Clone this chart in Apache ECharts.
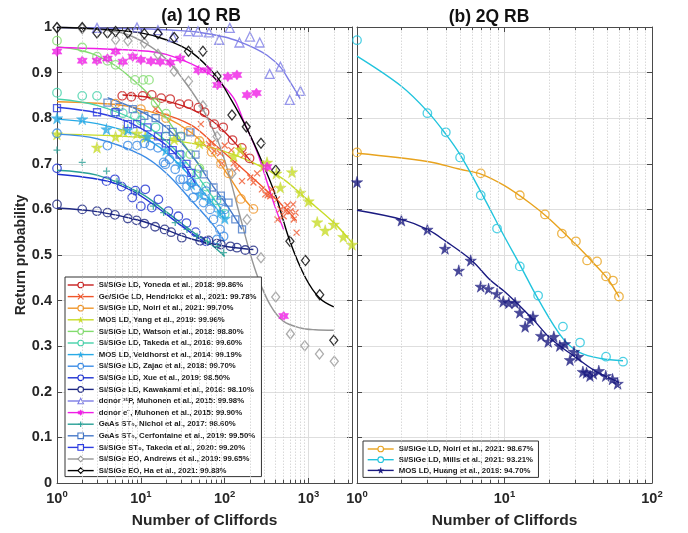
<!DOCTYPE html>
<html>
<head>
<meta charset="utf-8">
<script src="https://cdn.jsdelivr.net/npm/echarts@6/dist/echarts.min.js"></script>
<style>
  html, body { margin: 0; background: #fff; }
  #chart { width: 688px; height: 533px; }
</style>
</head>
<body>
<div id="chart"></div>
<script>
// ---- axis ticks ----
const leftXMax = 3300;
const rightXMax = 100;
const leftMinor = [2, 3, 4, 5, 6, 7, 8, 9, 20, 30, 40, 50, 60, 70, 80, 90, 200, 300, 400, 500, 600, 700, 800, 900, 2000, 3000];
const rightMinor = [2, 3, 4, 5, 6, 7, 8, 9, 20, 30, 40, 50, 60, 70, 80, 90];

// ---- (a) 1Q RB : points and fitted curves [cliffords, probability] ----
const yonedaPts = [[6, 0.849], [7.7, 0.847], [10.5, 0.849], [13.5, 0.851], [17.5, 0.844], [22.4, 0.842], [29, 0.831], [37, 0.831], [48.6, 0.823], [57.6, 0.813], [75, 0.787], [96, 0.78], [124, 0.752], [160, 0.735], [198, 0.712]];
const yonedaFit = [[6, 0.851], [10, 0.848], [20, 0.838], [40, 0.82], [70, 0.795], [100, 0.77], [150, 0.735], [220, 0.699]];

const hendrickxPts = [[15, 0.82], [52, 0.787], [65, 0.743], [70, 0.745], [75, 0.728], [88, 0.723], [93, 0.701], [100, 0.74], [120, 0.73], [128, 0.701], [140, 0.69], [161, 0.662], [168, 0.719], [202, 0.67], [220, 0.659], [244, 0.679], [278, 0.644], [305, 0.633], [325, 0.631], [350, 0.629], [366, 0.644], [420, 0.622], [427, 0.578], [462, 0.6], [505, 0.585], [530, 0.596], [560, 0.609], [610, 0.596], [655, 0.611], [665, 0.578], [700, 0.593], [720, 0.549]];
const hendrickxFit = [[15, 0.815], [40, 0.785], [73, 0.745], [150, 0.695], [300, 0.645], [450, 0.615], [720, 0.575]];

const noiri1Pts = [[5, 0.832], [10, 0.82], [20, 0.8], [37, 0.772], [50, 0.75], [70, 0.726], [90, 0.7], [111, 0.679], [156, 0.623], [220, 0.601]];
const noiri1Fit = [[1, 0.836], [5, 0.83], [10, 0.82], [20, 0.802], [40, 0.768], [70, 0.725], [110, 0.675], [160, 0.63], [220, 0.6]];

const yangPts = [[1, 0.765], [3, 0.736], [5, 0.76], [6.2, 0.772], [9, 0.767], [11.3, 0.759], [25, 0.754], [50, 0.745], [128, 0.717], [154, 0.732], [290, 0.695], [320, 0.703], [413, 0.679], [462, 0.648], [635, 0.682], [800, 0.637], [1000, 0.618], [1270, 0.572], [1580, 0.554], [2000, 0.567], [2600, 0.54], [3300, 0.523]];
const yangFit = [[1, 0.765], [10, 0.758], [50, 0.742], [128, 0.72], [250, 0.697], [505, 0.666], [960, 0.622], [2000, 0.571], [3300, 0.527]];

const watsonPts = [[1, 0.97], [2, 0.955], [3, 0.935], [4, 0.926], [5, 0.917], [8.5, 0.884], [10.7, 0.884], [12.5, 0.884], [15, 0.834], [20, 0.81], [30, 0.76], [39, 0.721], [50, 0.69]];
const watsonFit = [[1, 0.957], [2, 0.948], [3, 0.937], [5, 0.915], [8, 0.885], [12, 0.855], [17, 0.82], [25, 0.775], [40, 0.72], [56, 0.688]];

const takeda16Pts = [[1, 0.856], [2, 0.849], [3, 0.849], [4.9, 0.813], [6.1, 0.811], [8.5, 0.805], [10, 0.795], [15, 0.78], [20, 0.76], [30, 0.72], [47, 0.677], [60, 0.65], [80, 0.62], [100, 0.59]];
const takeda16Fit = [[1, 0.842], [3, 0.828], [10, 0.79], [20, 0.75], [40, 0.69], [70, 0.63], [100, 0.59]];

const veldhorstPts = [[1, 0.8], [2, 0.798], [3.9, 0.776], [7, 0.775], [12, 0.76], [20, 0.73], [30, 0.7], [40, 0.655], [51, 0.633], [65, 0.62], [88, 0.593], [100, 0.58]];
const veldhorstFit = [[1, 0.798], [3, 0.788], [10, 0.76], [20, 0.725], [40, 0.67], [70, 0.615], [100, 0.578]];

const zajacPts = [[1, 0.767], [4, 0.74], [7, 0.74], [9, 0.74], [11, 0.745], [13, 0.74], [16, 0.735], [18.7, 0.703], [19.6, 0.699], [22, 0.71], [25.7, 0.688], [29.5, 0.666], [32, 0.666], [35.5, 0.651], [40.5, 0.659], [42, 0.626], [45, 0.644], [56, 0.615], [60, 0.64], [67, 0.6], [73.5, 0.578], [81, 0.534], [88, 0.556], [90, 0.62], [97, 0.541], [100, 0.6]];
const zajacFit = [[1, 0.765], [3, 0.755], [10, 0.72], [20, 0.68], [40, 0.62], [70, 0.57], [100, 0.53]];

const xuePts = [[1, 0.69], [3.9, 0.662], [4.9, 0.666], [5.9, 0.65], [7.9, 0.626], [8.6, 0.641], [10, 0.607], [11.3, 0.644], [13.5, 0.604], [16.2, 0.622], [21.3, 0.596], [28, 0.585], [35, 0.57], [45, 0.55], [60, 0.53]];
const xueFit = [[1, 0.677], [4, 0.662], [8, 0.64], [15, 0.607], [30, 0.565], [60, 0.525]];

const kawakamiPts = [[1, 0.611], [2, 0.6], [3, 0.596], [4, 0.593], [4.9, 0.588], [7, 0.58], [8.9, 0.576], [11, 0.569], [14.8, 0.562], [19.2, 0.556], [23, 0.55], [30.8, 0.538], [51, 0.531], [64, 0.532], [81, 0.525], [90, 0.523], [117, 0.519], [140, 0.516], [176, 0.511], [220, 0.51]];
const kawakamiFit = [[1, 0.603], [3, 0.595], [10, 0.575], [20, 0.555], [40, 0.535], [70, 0.525], [120, 0.517], [220, 0.512]];

const donorPPts = [[3, 0.998], [9, 0.999], [16, 0.993], [24, 0.978], [37, 0.991], [48, 0.99], [65, 0.988], [86, 0.972], [115, 0.998], [150, 0.966], [200, 0.979], [262, 0.966], [344, 0.897], [462, 0.913], [597, 0.84], [800, 0.86]];
const donorPFit = [[1, 0.999], [10, 0.996], [30, 0.992], [51, 0.988], [100, 0.978], [154, 0.967], [220, 0.955], [320, 0.938], [462, 0.912], [600, 0.88], [800, 0.842]];

const donorEPts = [[1, 0.946], [2, 0.926], [3, 0.926], [4, 0.931], [5, 0.946], [6.1, 0.924], [8, 0.935], [10, 0.928], [13.2, 0.925], [17, 0.924], [22.4, 0.922], [29.5, 0.931], [48.6, 0.905], [62.6, 0.905], [82, 0.873], [109, 0.891], [140, 0.895], [185, 0.851], [239, 0.855], [320, 0.693], [505, 0.366]];
const donorEFit = [[1, 0.955], [10, 0.948], [20, 0.94], [51, 0.91], [80, 0.885], [127, 0.845], [168, 0.794], [245, 0.725], [320, 0.66], [400, 0.605], [505, 0.556]];

const nicholPts = [[1, 0.73], [2, 0.703], [3.9, 0.684], [5.2, 0.662], [9, 0.64], [14.1, 0.607], [18.7, 0.593], [25.7, 0.571], [35.5, 0.556], [46.8, 0.541], [62, 0.53], [81, 0.519], [97, 0.505]];
const nicholFit = [[1, 0.686], [3, 0.675], [10, 0.635], [20, 0.595], [40, 0.553], [70, 0.522], [100, 0.497]];

const cerfontainePts = [[4, 0.834], [5.5, 0.825], [8, 0.82], [11, 0.805], [15, 0.8], [20, 0.776], [24, 0.77], [30, 0.76], [39, 0.769], [45, 0.72], [56, 0.677], [73.5, 0.648], [90, 0.63], [111, 0.615], [134, 0.578], [161, 0.556]];
const cerfontaineFit = [[4, 0.845], [10, 0.815], [20, 0.78], [40, 0.72], [70, 0.655], [110, 0.605], [161, 0.556]];

const takeda20Pts = [[1, 0.822], [3, 0.813], [5, 0.813], [7, 0.787], [9, 0.787], [12, 0.78], [16, 0.76], [20, 0.745], [24, 0.73], [29, 0.72], [35, 0.7], [40, 0.68]];
const takeda20Fit = [[1, 0.824], [3, 0.812], [7, 0.792], [15, 0.758], [25, 0.725], [35, 0.69], [45, 0.655]];

const andrewsPts = [[1, 0.998], [2, 0.996], [5, 0.972], [7, 0.97], [11, 0.965], [16, 0.94], [25, 0.903], [37, 0.881], [55, 0.827], [81, 0.76], [122, 0.679], [185, 0.578], [271, 0.494], [406, 0.408], [608, 0.327], [902, 0.301], [1350, 0.283], [2030, 0.267]];
const andrewsFit = [[1, 1.0], [5, 0.99], [10, 0.97], [20, 0.93], [35, 0.875], [55, 0.82], [81, 0.755], [107, 0.69], [150, 0.59], [200, 0.505], [250, 0.45], [350, 0.39], [500, 0.355], [800, 0.34], [1200, 0.336], [2000, 0.335]];

const haPts = [[1, 0.999], [2, 0.999], [3, 0.987], [4, 0.987], [5, 0.99], [7, 0.987], [11, 0.985], [16, 0.985], [25, 0.977], [37, 0.947], [55, 0.947], [81, 0.892], [122, 0.807], [181, 0.781], [271, 0.745], [406, 0.686], [600, 0.53], [920, 0.488], [1360, 0.413], [2000, 0.313]];
const haFit = [[1, 0.999], [3, 0.996], [10, 0.987], [20, 0.972], [40, 0.945], [81, 0.89], [120, 0.84], [181, 0.78], [271, 0.71], [406, 0.63], [600, 0.53], [920, 0.45], [1360, 0.405], [2000, 0.386]];

// ---- (b) 2Q RB ----
const noiri2Pts = [[1, 0.725], [6.9, 0.679], [12.7, 0.631], [18.8, 0.589], [24.5, 0.547], [30.5, 0.53], [36.3, 0.488], [42.4, 0.486], [48.8, 0.453], [54.4, 0.444], [59.7, 0.409]];
const noiri2Fit = [[1, 0.723], [3, 0.705], [5, 0.688], [7, 0.677], [10, 0.652], [15, 0.613], [20, 0.58], [30, 0.525], [40, 0.483], [50, 0.448], [60, 0.407]];

const millsPts = [[1, 0.971], [3, 0.811], [4, 0.769], [5, 0.714], [6.9, 0.631], [8.9, 0.558], [12.7, 0.475], [16.9, 0.411], [24.9, 0.343], [32.5, 0.308], [48.8, 0.277], [63.6, 0.266]];
const millsFit = [[1, 0.936], [2, 0.87], [3, 0.815], [4, 0.765], [5, 0.72], [7, 0.635], [10, 0.54], [12.7, 0.479], [17, 0.402], [25, 0.316], [32.5, 0.286], [45, 0.273], [63.6, 0.268]];

const huangPts = [[1, 0.66], [2, 0.576], [3, 0.556], [3.95, 0.514], [4.9, 0.466], [5.9, 0.488], [6.9, 0.431], [7.8, 0.426], [8.9, 0.415], [9.8, 0.398], [10.7, 0.395], [11.8, 0.395], [12.7, 0.374], [13.8, 0.343], [14.9, 0.358], [15.6, 0.365], [17.7, 0.323], [19.8, 0.31], [21.6, 0.321], [23.7, 0.301], [25.7, 0.305], [27.8, 0.27], [29.6, 0.288], [31.5, 0.277], [34, 0.244], [36, 0.242], [38, 0.235], [40, 0.24], [43.6, 0.246], [48.6, 0.235], [54, 0.228], [58.5, 0.218]];
const huangFit = [[1, 0.598], [2, 0.578], [3, 0.556], [4, 0.53], [6, 0.488], [8, 0.445], [10, 0.42], [13, 0.385], [16, 0.355], [20, 0.32], [25, 0.295], [30, 0.277], [40, 0.248], [50, 0.232], [60, 0.22]];

// ---- styles ----
const FONT = '"Liberation Sans", Arial, Helvetica, sans-serif';
const AX = '#4a4a4a';
const STAR = 'path://M50,0L61,35L98,35L68,57L79,91L50,70L21,91L32,57L2,35L39,35Z';
const HEX = 'path://M50,0L64,25L93,25L79,50L93,75L64,75L50,100L36,75L7,75L21,50L7,25L36,25Z';
const MARK = {
  o: { symbol: 'circle', size: 8.5, hollow: true },
  x: { symbol: 'path://M0,0L10,10M10,0L0,10', size: 6, hollow: true },
  p: { symbol: STAR, size: 11.5, hollow: false },
  h: { symbol: HEX, size: 10, hollow: false },
  t: { symbol: 'triangle', size: 9, hollow: true },
  '+': { symbol: 'path://M5,0L5,10M0,5L10,5', size: 7, hollow: true },
  s: { symbol: 'rect', size: 7, hollow: true },
  d: { symbol: 'diamond', size: [8, 10], hollow: true }
};

const set1Q = [
  ['Si/SiGe LD, Yoneda et al., 2018: 99.86%', '#c81e1e', 'o', yonedaPts, yonedaFit],
  ['Ge/SiGe LD, Hendrickx et al., 2021: 99.78%', '#f0552a', 'x', hendrickxPts, hendrickxFit],
  ['Si/SiGe LD, Noiri et al., 2021: 99.70%', '#f0962a', 'o', noiri1Pts, noiri1Fit],
  ['MOS LD, Yang et al., 2019: 99.96%', '#c8dc28', 'p', yangPts, yangFit],
  ['Si/SiGe LD, Watson et al., 2018: 98.80%', '#82dc6e', 'o', watsonPts, watsonFit],
  ['Si/SiGe LD, Takeda et al., 2016: 99.60%', '#46d2aa', 'o', takeda16Pts, takeda16Fit],
  ['MOS LD, Veldhorst et al., 2014: 99.19%', '#28aae6', 'p', veldhorstPts, veldhorstFit],
  ['Si/SiGe LD, Zajac et al., 2018: 99.70%', '#3c8ce6', 'o', zajacPts, zajacFit],
  ['Si/SiGe LD, Xue et al., 2019: 98.50%', '#1e32d2', 'o', xuePts, xueFit],
  ['Si/SiGe LD, Kawakami et al., 2016: 98.10%', '#1e2882', 'o', kawakamiPts, kawakamiFit],
  ['donor \u00b3\u00b9P, Muhonen et al., 2015: 99.98%', '#7d7de6', 't', donorPPts, donorPFit],
  ['donor e\u207b, Muhonen et al., 2015: 99.90%', '#f01ee6', 'h', donorEPts, donorEFit],
  ['GaAs ST\u2080, Nichol et al., 2017: 98.60%', '#28a096', '+', nicholPts, nicholFit],
  ['GaAs ST\u2080, Cerfontaine et al., 2019: 99.50%', '#4678c8', 's', cerfontainePts, cerfontaineFit],
  ['Si/SiGe ST\u2080, Takeda et al., 2020: 99.20%', '#2d3ce1', 's', takeda20Pts, takeda20Fit],
  ['Si/SiGe EO, Andrews et al., 2019: 99.65%', '#969696', 'd', andrewsPts, andrewsFit],
  ['Si/SiGe EO, Ha et al., 2021: 99.88%', '#000000', 'd', haPts, haFit]
];
const set2Q = [
  ['Si/SiGe LD, Noiri et al., 2021: 98.67%', '#e8a31e', 'o', noiri2Pts, noiri2Fit],
  ['Si/SiGe LD, Mills et al., 2021: 93.21%', '#22c4dd', 'o', millsPts, millsFit],
  ['MOS LD, Huang et al., 2019: 94.70%', '#1a1a80', 'p', huangPts, huangFit]
];

function makeSeries(entry, axisIdx) {
  const [name, color, mk, pts, fit] = entry;
  const m = MARK[mk];
  const pointStyle = m.hollow
    ? { color: 'rgba(0,0,0,0)', borderColor: color, borderWidth: 1.3 }
    : { color: color, borderColor: color, borderWidth: 0.5 };
  return [
    {
      type: 'line', name, xAxisIndex: axisIdx, yAxisIndex: axisIdx, data: fit,
      smooth: 0.35, showSymbol: false,
      symbol: m.symbol, symbolSize: 7,
      lineStyle: { color, width: 1.4 }, itemStyle: { color },
      silent: true, z: 2
    },
    {
      type: 'scatter', name, xAxisIndex: axisIdx, yAxisIndex: axisIdx, data: pts,
      symbol: m.symbol, symbolSize: m.size, itemStyle: pointStyle,
      silent: true, z: 3
    }
  ];
}

function legendItems(set) {
  return set.map(([name, color, mk]) => ({
    name,
    itemStyle: MARK[mk].hollow
      ? { color: '#fff', borderColor: color, borderWidth: 1.1 }
      : { color: color, borderColor: color, borderWidth: 0.5 },
    lineStyle: { color, width: 1.4 }
  }));
}

// minor grid lines and minor ticks of the log axes
function minorSeries(values, axisIdx) {
  const grid = values.map(v => ({ xAxis: v, lineStyle: { color: '#cfcfcf', type: [1.5, 1.5], width: 0.8 } }));
  const tickStyle = { color: AX, type: 'solid', width: 1 };
  const bottom = values.map(v => [{ coord: [v, 0], lineStyle: tickStyle }, { coord: [v, 0.007] }]);
  const top = values.map(v => [{ coord: [v, 1], lineStyle: tickStyle }, { coord: [v, 0.993] }]);
  return {
    type: 'line', xAxisIndex: axisIdx, yAxisIndex: axisIdx, data: [], z: 1, silent: true,
    markLine: { symbol: 'none', silent: true, label: { show: false }, animation: false, data: grid.concat(bottom, top) }
  };
}

function logFmt(v) {
  const e = Math.log10(v);
  const r = Math.round(e);
  if (Math.abs(e - r) > 1e-6) return '';
  return '{b|10}{s|' + r + '}';
}

function xAx(gi, pos, max, main) {
  return {
    type: 'log', logBase: 10, gridIndex: gi, position: pos, min: 1, max,
    name: main ? 'Number of Cliffords' : '', nameLocation: 'middle', nameGap: 30,
    nameTextStyle: { fontFamily: FONT, fontWeight: 'bold', fontSize: 15.5, color: '#262626' },
    axisLine: { show: true, onZero: false, lineStyle: { color: AX, width: 1 } },
    axisTick: { show: true, inside: true, length: 5, lineStyle: { color: AX } },
    axisLabel: {
      show: main, margin: 6, formatter: logFmt, showMaxLabel: max === 100,
      rich: {
        b: { fontFamily: FONT, fontWeight: 'bold', fontSize: 14.5, color: '#262626', lineHeight: 17, verticalAlign: 'bottom' },
        s: { fontFamily: FONT, fontWeight: 'bold', fontSize: 9.5, color: '#262626', lineHeight: 10, verticalAlign: 'top' }
      }
    },
    splitLine: { show: main, lineStyle: { color: '#dedede', width: 1 } }
  };
}

function yAx(gi, pos, labels, grid) {
  return {
    type: 'value', gridIndex: gi, position: pos, min: 0, max: 1, interval: 0.1,
    name: labels ? 'Return probability' : '', nameLocation: 'middle', nameGap: 28,
    nameTextStyle: { fontFamily: FONT, fontWeight: 'bold', fontSize: 14, color: '#262626' },
    axisLine: { show: true, onZero: false, lineStyle: { color: AX, width: 1 } },
    axisTick: { show: true, inside: true, length: 5, lineStyle: { color: AX } },
    axisLabel: {
      show: labels, margin: 5, fontFamily: FONT, fontWeight: 'bold', fontSize: 14.5, color: '#262626',
      formatter: v => String(Math.round(v * 10) / 10)
    },
    splitLine: { show: grid, lineStyle: { color: '#dedede', width: 1 } }
  };
}

const legendText = { fontFamily: FONT, fontWeight: 'bold', fontSize: 7.8, color: '#1a1a1a' };

let series = [minorSeries(leftMinor, 0), minorSeries(rightMinor, 2)];
set1Q.forEach(e => { series = series.concat(makeSeries(e, 0)); });
set2Q.forEach(e => { series = series.concat(makeSeries(e, 2)); });

const option = {
  animation: false,
  backgroundColor: '#fff',
  title: [
    { text: '(a) 1Q RB', left: 196, top: 2, textAlign: 'center',
      textStyle: { fontFamily: FONT, fontWeight: 'bold', fontSize: 17.5, color: '#111' } },
    { text: '(b) 2Q RB', left: 484, top: 3, textAlign: 'center',
      textStyle: { fontFamily: FONT, fontWeight: 'bold', fontSize: 17.5, color: '#111' } }
  ],
  grid: [
    { left: 57, top: 27, width: 295, height: 456, outerBoundsMode: 'none' },
    { left: 357, top: 27, width: 295, height: 456, outerBoundsMode: 'none' }
  ],
  xAxis: [
    xAx(0, 'bottom', leftXMax, true), xAx(0, 'top', leftXMax, false),
    xAx(1, 'bottom', rightXMax, true), xAx(1, 'top', rightXMax, false)
  ],
  yAxis: [
    yAx(0, 'left', true, true), yAx(0, 'right', false, false),
    yAx(1, 'left', false, true), yAx(1, 'right', false, false)
  ],
  legend: [
    {
      data: legendItems(set1Q), orient: 'vertical', left: 65, top: 277,
      itemWidth: 26, itemHeight: 7, itemGap: 3.6, padding: [4, 5, 2, 2],
      backgroundColor: '#fff', borderColor: '#333', borderWidth: 1,
      selectedMode: false, textStyle: legendText
    },
    {
      data: legendItems(set2Q), orient: 'vertical', left: 363, top: 441,
      itemWidth: 26, itemHeight: 7, itemGap: 2.7, padding: [4, 5, 3, 4],
      backgroundColor: '#fff', borderColor: '#333', borderWidth: 1,
      selectedMode: false, textStyle: legendText
    }
  ],
  series
};

const chart = echarts.init(document.getElementById('chart'), null, { renderer: 'canvas' });
chart.setOption(option);
</script>
</body>
</html>
